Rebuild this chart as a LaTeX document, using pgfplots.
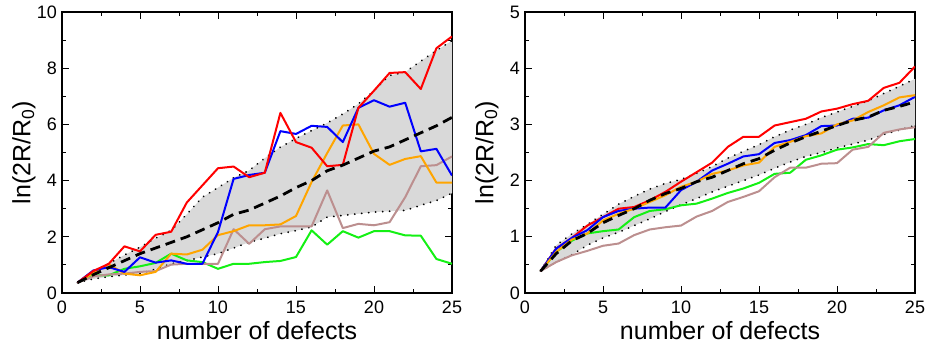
\documentclass[border=0pt]{standalone}
\usepackage{fontspec}
\setmainfont{Liberation Sans}
\usepackage{pgfplots}
\usepackage{pgfplotstable}
\pgfplotsset{compat=1.18}
\usepgfplotslibrary{fillbetween}
\definecolor{cred}{RGB}{255,0,0}
\definecolor{cblue}{RGB}{0,0,255}
\definecolor{corange}{RGB}{255,165,0}
\definecolor{cgreen}{RGB}{20,240,20}
\definecolor{cbrown}{RGB}{188,143,143}
\definecolor{cfill}{RGB}{217,217,217}
\pgfplotstableread{
x up lo mean red blue orange green brown
1 0.37 0.37 0.37 0.37 0.37 0.37 0.37 0.37
2 0.72 0.50 0.65 0.78 0.80 0.71 0.63 0.59
3 1.05 0.58 0.90 1.04 0.92 1.02 0.63 0.66
4 1.35 0.64 1.15 1.66 0.75 0.69 0.86 0.69
5 1.63 0.69 1.40 1.48 1.27 0.63 0.95 0.75
6 1.95 0.85 1.60 2.07 1.08 0.75 1.07 0.78
7 2.23 1.04 1.80 2.18 1.16 1.40 1.40 1.01
8 2.80 1.15 2.00 3.22 1.04 1.37 1.16 1.04
9 3.41 1.28 2.25 3.83 1.04 1.54 1.10 1.04
10 3.75 1.40 2.50 4.44 2.17 2.06 0.86 1.04
11 4.10 1.60 2.80 4.50 4.06 2.20 1.04 2.27
12 4.36 1.81 2.95 4.12 4.20 2.41 1.04 1.75
13 4.80 1.95 3.20 4.28 4.28 2.41 1.10 2.27
14 5.19 2.11 3.45 6.41 5.76 2.44 1.14 2.37
15 5.50 2.22 3.75 5.37 5.66 2.74 1.28 2.37
16 5.78 2.35 4.00 5.17 5.95 3.95 2.23 2.37
17 6.05 2.70 4.35 4.51 5.91 4.98 1.72 3.65
18 6.37 2.76 4.55 4.56 5.37 5.96 2.20 2.31
19 6.73 2.82 4.80 6.59 6.59 6.00 1.97 2.46
20 7.20 2.88 5.05 7.20 6.86 4.95 2.20 2.41
21 7.74 2.91 5.20 7.83 6.63 4.56 2.20 2.52
22 7.86 2.94 5.45 7.86 6.77 4.77 2.05 3.41
23 8.25 3.12 5.70 7.26 5.04 4.87 2.04 4.51
24 8.63 3.29 5.95 8.71 5.13 3.93 1.21 4.55
25 8.98 3.55 6.25 9.13 4.18 3.93 1.04 4.86
}\lefttab
\pgfplotstableread{
x up lo mean red blue orange green brown
1 0.39 0.39 0.39 0.39 0.39 0.39 0.39 0.39
2 0.85 0.55 0.70 0.79 0.79 0.73 0.73 0.55
3 1.05 0.68 0.93 0.98 0.98 0.95 0.93 0.67
4 1.22 0.85 1.06 1.20 1.12 1.06 1.06 0.75
5 1.40 0.98 1.25 1.35 1.35 1.29 1.10 0.84
6 1.58 1.08 1.38 1.50 1.46 1.41 1.13 0.88
7 1.72 1.20 1.50 1.53 1.50 1.50 1.35 1.03
8 1.85 1.32 1.65 1.65 1.52 1.62 1.46 1.13
9 1.95 1.45 1.77 1.80 1.52 1.74 1.49 1.17
10 2.02 1.57 1.86 1.98 1.83 1.89 1.56 1.20
11 2.13 1.68 1.98 2.15 1.98 1.98 1.59 1.36
12 2.25 1.80 2.06 2.32 2.18 2.12 1.68 1.46
13 2.40 1.90 2.18 2.60 2.30 2.18 1.78 1.62
14 2.52 2.00 2.30 2.78 2.43 2.27 1.86 1.71
15 2.64 2.10 2.39 2.78 2.47 2.32 1.96 1.81
16 2.78 2.22 2.54 2.98 2.67 2.60 2.12 2.06
17 2.90 2.33 2.67 3.04 2.72 2.69 2.14 2.23
18 3.00 2.43 2.78 3.10 2.81 2.79 2.37 2.23
19 3.12 2.50 2.88 3.23 2.97 2.84 2.45 2.30
20 3.22 2.58 2.98 3.28 2.98 3.00 2.55 2.31
21 3.32 2.65 3.07 3.36 3.10 3.07 2.59 2.55
22 3.42 2.72 3.13 3.42 3.12 3.22 2.65 2.60
23 3.55 2.82 3.25 3.65 3.25 3.34 2.63 2.85
24 3.68 2.90 3.32 3.74 3.34 3.48 2.70 2.91
25 3.81 2.98 3.40 4.03 3.49 3.52 2.74 2.95
}\righttab
\pgfplotsset{
  myaxis/.style={
    scale only axis, width=390pt, height=281pt,
    xmin=0, xmax=25, ymin=0,
    xtick={0,5,...,25}, minor x tick num=1, minor y tick num=1,
    tick align=inside, major tick length=7pt, minor tick length=4pt,
    every tick/.style={black, line width=0.9pt},
    axis line style={line width=1.6pt},
    /pgf/number format/assume math mode=true,
    tick label style={font=\fontsize{18}{21}\selectfont},
    xticklabel style={inner sep=0pt, anchor=north, yshift=-8pt},
    yticklabel style={inner sep=0pt, anchor=east, xshift=-5pt},
    xlabel={number of defects},
    ylabel={ln(2R/R\textsubscript{0})},
    label style={font=\fontsize{25}{28}\selectfont},
    xlabel style={at={(axis description cs:0.5,0)}, anchor=base, yshift=-47pt, inner sep=0pt},
    ylabel style={at={(axis description cs:0,0.5)}, anchor=center, yshift=38pt},
    every axis plot/.append style={line join=round},
  },
  cline/.style={line width=2pt},
  dotln/.style={black, line width=2pt, line cap=round, dash pattern=on 0.01pt off 7pt},
  dashln/.style={black, line width=2.8pt, dash pattern=on 10pt off 6pt},
}
\begin{document}
\begin{tikzpicture}
\begin{axis}[myaxis, at={(62pt,57pt)}, anchor=south west, ymax=10, ytick={0,2,...,10}]
  \addplot[draw=none, name path=U] table[x=x,y=up]{\lefttab};
  \addplot[draw=none, name path=L] table[x=x,y=lo]{\lefttab};
  \addplot[cfill] fill between[of=U and L];
  \addplot[dotln] table[x=x,y=up]{\lefttab};
  \addplot[dotln] table[x=x,y=lo]{\lefttab};
  \addplot[cline, cgreen] table[x=x,y=green]{\lefttab};
  \addplot[cline, cbrown] table[x=x,y=brown]{\lefttab};
  \addplot[cline, corange] table[x=x,y=orange]{\lefttab};
  \addplot[cline, cblue] table[x=x,y=blue]{\lefttab};
  \addplot[cline, cred] table[x=x,y=red]{\lefttab};
  \addplot[dashln] table[x=x,y=mean]{\lefttab};
\end{axis}
\begin{axis}[myaxis, at={(525pt,57pt)}, anchor=south west, ymax=5, ytick={0,1,...,5}]
  \addplot[draw=none, name path=U] table[x=x,y=up]{\righttab};
  \addplot[draw=none, name path=L] table[x=x,y=lo]{\righttab};
  \addplot[cfill] fill between[of=U and L];
  \addplot[dotln] table[x=x,y=up]{\righttab};
  \addplot[dotln] table[x=x,y=lo]{\righttab};
  \addplot[cline, cgreen] table[x=x,y=green]{\righttab};
  \addplot[cline, cbrown] table[x=x,y=brown]{\righttab};
  \addplot[cline, cred] table[x=x,y=red]{\righttab};
  \addplot[cline, cblue] table[x=x,y=blue]{\righttab};
  \addplot[cline, corange] table[x=x,y=orange]{\righttab};
  \addplot[dashln] table[x=x,y=mean]{\righttab};
\end{axis}
\path (0pt,0pt) rectangle (927pt,350pt);
\end{tikzpicture}
\end{document}
